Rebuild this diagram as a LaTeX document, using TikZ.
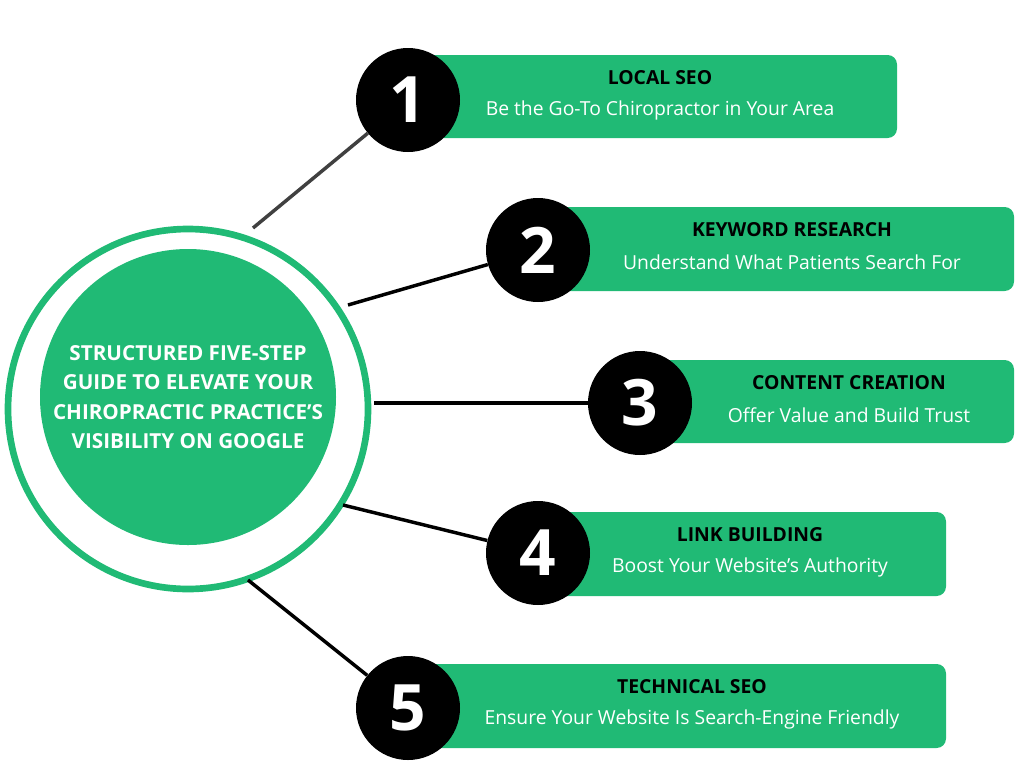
\documentclass[tikz,border=0pt]{standalone}
\usepackage{fontspec}
\setmainfont{Open Sans}
\definecolor{gr}{HTML}{20BA75}
\begin{document}
\begin{tikzpicture}[x=0.75pt,y=-0.75pt,
 bar/.style={fill=gr,rounded corners=7pt},
 num/.style={circle,fill=black,minimum size=78pt,text=white,font=\fontsize{48}{48}\selectfont\bfseries,inner sep=0},
 ttl/.style={font=\fontsize{14.5}{14.5}\selectfont\bfseries,text=black},
 sub/.style={font=\fontsize{14.5}{14.5}\selectfont,text=white},
 ln/.style={line width=2.6pt}]
\useasboundingbox (0,0) rectangle (1024,768);
\draw[gr,line width=5pt,fill=white] (188,409) circle (180);
\node[circle,fill=gr,minimum size=222pt,inner sep=0,align=center,text=white,font=\fontsize{15.5}{22}\selectfont\bfseries] (c) at (188,397) {STRUCTURED FIVE-STEP\\GUIDE TO ELEVATE YOUR\\CHIROPRACTIC PRACTICE'S\\VISIBILITY ON GOOGLE};
\foreach \i/\x/\y/\xa/\xb/\ya/\yb/\tx/\t/\s in {
 1/408/100/420/897/55/138/660/LOCAL SEO/Be the Go-To Chiropractor in Your Area,
 2/538/250/550/1014/207/291/792/KEYWORD RESEARCH/Understand What Patients Search For,
 3/640/403/650/1014/360/443/849/CONTENT CREATION/Offer Value and Build Trust,
 4/538/553/550/946/512/596/750/LINK BUILDING/Boost Your Website’s Authority,
 5/408/708/420/946/664/748/692/TECHNICAL SEO/Ensure Your Website Is Search-Engine Friendly}{
 \path[bar] (\xa,\ya) rectangle (\xb,\yb);
 \node[ttl] (t\i) at (\tx,{\ya+23}) {\t};
 \node[sub] (s\i) at (\tx,{\ya+55}) {\s};
 \node[num] (n\i) at (\x,\y) {\i};
}
\coordinate (a1) at (253,228); \coordinate (a2) at (348,305); \coordinate (a3) at (374,403);
\coordinate (a4) at (343,505); \coordinate (a5) at (248,580);
\draw[ln,black!75] (a1) -- (n1);
\draw[ln] (a2) -- (n2);
\draw[ln] (a3) -- (n3);
\draw[ln] (a4) -- (n4);
\draw[ln] (a5) -- (n5);
\end{tikzpicture}
\end{document}
